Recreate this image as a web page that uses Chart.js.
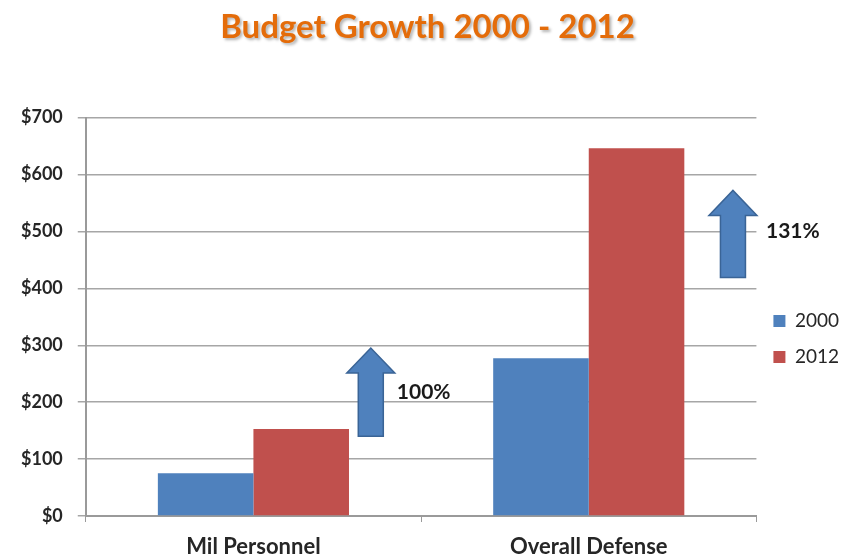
<!DOCTYPE html>
<html>
<head>
<meta charset="utf-8">
<script src="https://cdn.jsdelivr.net/npm/chart.js@4.4.1/dist/chart.umd.min.js"></script>
<style>
  html, body { margin: 0; padding: 0; background: #fff; }
  #wrap { width: 849px; height: 558px; }
</style>
</head>
<body>
<div id="wrap"><canvas id="chart"></canvas></div>
<script>
const categories = ['Mil Personnel', 'Overall Defense'];
const values2000 = [75, 277];
const values2012 = [153, 646];
const yTicks = [0, 100, 200, 300, 400, 500, 600, 700];

// growth arrows: category index, offset in category widths, from / to value
const arrowCategory = [0, 1];
const arrowOffset = [0.35, 0.43];
const arrowFrom = [140, 419];
const arrowTo = [295, 572];
const arrowLabels = ['100%', '131%'];
const arrowLabelValue = [218, 500];

const growthArrows = {
    id: 'growthArrows',
    afterDatasetsDraw(chart) {
        const { ctx, scales: { x, y } } = chart;
        const catWidth = x.getPixelForValue(1) - x.getPixelForValue(0);
        const labelGap = [2, 9];
        ctx.save();
        arrowCategory.forEach((cat, i) => {
            const cx = x.getPixelForValue(cat) + arrowOffset[i] * catWidth;
            const yBottom = y.getPixelForValue(arrowFrom[i]);
            const yTip = y.getPixelForValue(arrowTo[i]);
            const shaft = 12.5;
            const head = 24;
            const headH = 25;
            ctx.beginPath();
            ctx.moveTo(cx - shaft, yBottom);
            ctx.lineTo(cx - shaft, yTip + headH);
            ctx.lineTo(cx - head, yTip + headH);
            ctx.lineTo(cx, yTip);
            ctx.lineTo(cx + head, yTip + headH);
            ctx.lineTo(cx + shaft, yTip + headH);
            ctx.lineTo(cx + shaft, yBottom);
            ctx.closePath();
            ctx.fillStyle = '#4F81BD';
            ctx.fill();
            ctx.lineWidth = 1.5;
            ctx.strokeStyle = '#3A6496';
            ctx.stroke();

            ctx.font = 'bold 21px Lato';
            ctx.fillStyle = '#1a1a1a';
            ctx.textAlign = 'left';
            ctx.textBaseline = 'middle';
            ctx.fillText(arrowLabels[i], cx + head + labelGap[i], y.getPixelForValue(arrowLabelValue[i]));
        });
        ctx.restore();
    }
};

const chart = new Chart(document.getElementById('chart'), {
    type: 'bar',
    data: {
        labels: categories,
        datasets: [
            { label: '2000', data: values2000, backgroundColor: '#4F81BD' },
            { label: '2012', data: values2012, backgroundColor: '#C0504D' }
        ]
    },
    options: {
        responsive: true,
        maintainAspectRatio: false,
        animation: false,
        layout: { padding: { left: 6, right: 0, top: 6, bottom: -14 } },
        datasets: { bar: { barPercentage: 1, categoryPercentage: 0.57 } },
        scales: {
            x: {
                grid: { display: true, drawOnChartArea: false, offset: true, tickLength: 6, color: '#9a9a9a' },
                border: { color: '#9a9a9a', width: 2 },
                ticks: { color: '#262626', font: { family: 'Lato', size: 22, weight: 'bold', lineHeight: 1 }, padding: 14 }
            },
            y: {
                min: 0,
                max: 700,
                afterBuildTicks: (axis) => { axis.ticks = yTicks.map((v) => ({ value: v })); },
                grid: { color: '#a6a6a6', lineWidth: 1.5, tickLength: 8 },
                border: { color: '#9a9a9a', width: 2 },
                ticks: {
                    color: '#262626',
                    font: { family: 'Lato', size: 18, weight: 'bold' },
                    padding: 15,
                    callback: (v) => '$' + v
                }
            }
        },
        plugins: {
            title: {
                display: true,
                text: 'Budget Growth 2000 - 2012',
                color: '#E46C0A',
                font: { family: 'Lato', size: 33, weight: 'bold' },
                padding: { top: 2, bottom: 70 }
            },
            legend: {
                position: 'right',
                fullSize: false,
                title: { display: true, text: '', padding: { top: 30, bottom: 0 } },
                labels: {
                    boxWidth: 12,
                    boxHeight: 12,
                    color: '#262626',
                    font: { family: 'Lato', size: 19 },
                    padding: 17
                }
            },
            tooltip: { enabled: false }
        }
    },
    plugins: [growthArrows]
});

// soft drop shadow on the title, like the original
const titleBox = chart.titleBlock;
const drawTitle = titleBox.draw.bind(titleBox);
titleBox.draw = () => {
    const ctx = chart.ctx;
    ctx.save();
    ctx.shadowColor = 'rgba(0, 0, 0, 0.3)';
    ctx.shadowOffsetX = 2;
    ctx.shadowOffsetY = 2;
    ctx.shadowBlur = 3;
    drawTitle();
    ctx.restore();
};
chart.draw();
</script>
</body>
</html>
